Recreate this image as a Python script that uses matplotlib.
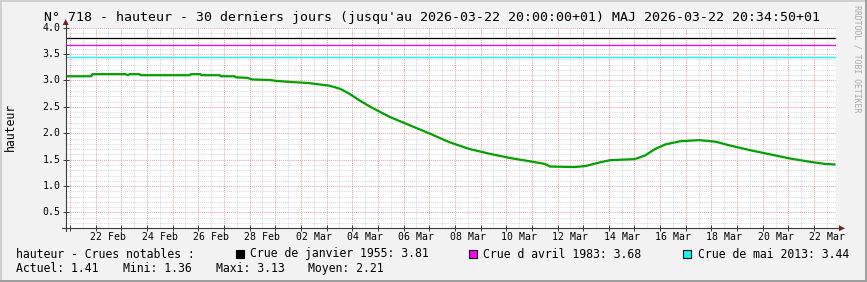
import matplotlib
matplotlib.use("Agg")
import matplotlib.pyplot as plt
import pandas as pd
from matplotlib.patches import Rectangle, Polygon
from matplotlib.lines import Line2D
from matplotlib.transforms import blended_transform_factory

W, H = 867, 282
MONO = "DejaVu Sans Mono"

# hauteur (lecture approximative)
dates = [
    "2026-02-20 20:00", "2026-02-21 20:00", "2026-02-21 21:00", "2026-02-23 04:00",
    "2026-02-23 06:00", "2026-02-23 08:00", "2026-02-23 17:00", "2026-02-23 18:00",
    "2026-02-25 16:00", "2026-02-25 17:00", "2026-02-26 02:00", "2026-02-26 03:00",
    "2026-02-26 20:00", "2026-02-26 21:00", "2026-02-27 10:00", "2026-02-27 11:00",
    "2026-02-27 22:00", "2026-02-28 02:00", "2026-02-28 18:00", "2026-03-01 02:00",
    "2026-03-01 09:00", "2026-03-02 08:00", "2026-03-03 03:00", "2026-03-03 13:00",
    "2026-03-03 22:00", "2026-03-04 07:00", "2026-03-04 17:00", "2026-03-05 11:00",
    "2026-03-06 06:00", "2026-03-07 01:00", "2026-03-07 19:00", "2026-03-08 14:00",
    "2026-03-09 09:00", "2026-03-10 04:00", "2026-03-10 22:00", "2026-03-11 12:00",
    "2026-03-11 17:00", "2026-03-12 16:00", "2026-03-13 02:00", "2026-03-13 16:00",
    "2026-03-14 01:00", "2026-03-15 00:00", "2026-03-15 10:00", "2026-03-15 19:00",
    "2026-03-16 05:00", "2026-03-16 19:00", "2026-03-17 13:00", "2026-03-18 04:00",
    "2026-03-18 17:00", "2026-03-19 12:00", "2026-03-20 07:00", "2026-03-21 02:00",
    "2026-03-21 20:00", "2026-03-22 10:00", "2026-03-22 19:00",
]
hauteur = [
    3.08, 3.08, 3.12, 3.12,
    3.10, 3.12, 3.12, 3.10,
    3.10, 3.12, 3.12, 3.10,
    3.10, 3.08, 3.08, 3.06,
    3.05, 3.02, 3.01, 2.99,
    2.98, 2.95, 2.90, 2.84,
    2.74, 2.62, 2.50, 2.31,
    2.15, 1.99, 1.83, 1.70,
    1.61, 1.53, 1.47, 1.42,
    1.37, 1.36, 1.38, 1.45,
    1.49, 1.51, 1.58, 1.70,
    1.79, 1.85, 1.87, 1.84,
    1.77, 1.68, 1.60, 1.52,
    1.46, 1.42, 1.41,
]

crues_noms = ["Crue de janvier 1955", "Crue d avril 1983", "Crue de mai 2013"]
crues_valeurs = [3.81, 3.68, 3.44]
crues_couleurs = ["#000000", "#FF00FF", "#00FFFF"]

stats_noms = ["Actuel", "Mini", "Maxi", "Moyen"]
stats_valeurs = [1.41, 1.36, 3.13, 2.21]

debut = pd.Timestamp("2026-02-20 20:00")
fin = pd.Timestamp("2026-03-22 20:00")
ymin, ymax = 0.2, 4.0


def fx(x):
    return x / W


def fy(y):
    return 1 - y / H


# couleurs façon rrdtool
BACK = "#F2F2F2"
SHADEA = "#CFCFCF"
SHADEB = "#9E9E9E"
AXE = "#3A3A3A"
FLECHE = "#7F1F1F"

fig = plt.figure(figsize=(W / 100, H / 100), dpi=100, facecolor=BACK)

# cadre
fig.add_artist(Rectangle((0, fy(2)), 1, 2 / H, transform=fig.transFigure, color=SHADEA, lw=0))
fig.add_artist(Rectangle((0, 0), fx(2), 1, transform=fig.transFigure, color=SHADEA, lw=0))
fig.add_artist(Rectangle((0, 0), 1, 2 / H, transform=fig.transFigure, color=SHADEB, lw=0))
fig.add_artist(Rectangle((fx(W - 2), 0), 2 / W, 1, transform=fig.transFigure, color=SHADEB, lw=0))

x0, x1, y0, y1 = 65.7, 835.5, 27.7, 228.3
ax = fig.add_axes([fx(x0), fy(y1), (x1 - x0) / W, (y1 - y0) / H])
ax.set_facecolor("white")
ax.set_xlim(debut, fin)
ax.set_ylim(ymin, ymax)
for s in ax.spines.values():
    s.set_visible(False)

# grille
pointille = (0, (1, 1))
for t in pd.date_range("2026-02-21 00:00", fin, freq="12h"):
    if t.hour == 0:
        ax.axvline(t, color="#DE5151", alpha=0.5, lw=0.75, ls=pointille, zorder=1)
    else:
        ax.axvline(t, color="#8F8F8F", alpha=0.32, lw=0.75, ls=pointille, zorder=1)
for k in range(3, 41):
    v = k / 10
    if k % 5 == 0:
        ax.axhline(v, color="#DE5151", alpha=0.5, lw=0.75, ls=pointille, zorder=1)
    else:
        ax.axhline(v, color="#8F8F8F", alpha=0.32, lw=0.75, ls=pointille, zorder=1)

# crues notables
for v, c in zip(crues_valeurs, crues_couleurs):
    ax.axhline(v, color=c, lw=0.9, zorder=2)

# hauteur
ax.plot(pd.to_datetime(dates), hauteur, color="#00A000", lw=1.6, zorder=3)

# graduations
jours = pd.date_range("2026-02-21", "2026-03-22", freq="D")
ax.set_xticks(jours)
ax.set_xticklabels([])
ax.set_yticks([k / 2 for k in range(1, 9)])
ax.set_yticklabels([])
ax.tick_params(which="both", direction="inout", length=4, width=0.7, color=AXE)

axw = x1 - x0
axh = y1 - y0
trx = blended_transform_factory(ax.transData, ax.transAxes)
for d in pd.date_range("2026-02-22 12:00", "2026-03-22 12:00", freq="2D"):
    ax.text(d, -(237.3 - y1) / axh, d.strftime("%d %b"), transform=trx,
            ha="center", va="center", fontsize=7.1, family=MONO)
try_ = blended_transform_factory(ax.transAxes, ax.transData)
for k in range(1, 9):
    v = k / 2
    ax.text(-(x0 - 60.5) / axw, v, f"{v:.1f}", transform=try_,
            ha="right", va="center", fontsize=7.1, family=MONO)

# axes et flèches
fig.add_artist(Line2D([fx(62), fx(840)], [fy(y1), fy(y1)], color=AXE, lw=0.8))
fig.add_artist(Line2D([fx(x0), fx(x0)], [fy(231), fy(24)], color=AXE, lw=0.8))
fig.add_artist(Polygon([(fx(839), fy(y1 - 3)), (fx(839), fy(y1 + 3)), (fx(845), fy(y1))],
                       closed=True, color=FLECHE, lw=0))
fig.add_artist(Polygon([(fx(x0 - 3), fy(25)), (fx(x0 + 3), fy(25)), (fx(x0), fy(19))],
                       closed=True, color=FLECHE, lw=0))

# textes
titre = ("N° 718 - hauteur - 30 derniers jours (jusqu'au 2026-03-22 20:00:00+01) "
         "MAJ 2026-03-22 20:34:50+01")
fig.text(fx(432), fy(17.5), titre, ha="center", va="center", fontsize=9.55, family=MONO)
fig.text(fx(10), fy(127), "hauteur", rotation=90, ha="center", va="center",
         fontsize=8.3, family=MONO)
fig.text(fx(856.5), fy(59), "RRDTOOL / TOBI OETIKER", rotation=270, ha="center",
         va="center", fontsize=5.9, family=MONO, color="#A8A8A8")

# légende
ly1, ly2 = 254, 268.3
fig.text(fx(16), fy(ly1), "hauteur - Crues notables :", ha="left", va="center",
         fontsize=8.3, family=MONO)
carres_x = [236, 469, 683]
for cx, nom, v, c in zip(carres_x, crues_noms, crues_valeurs, crues_couleurs):
    fig.add_artist(Rectangle((fx(cx), fy(ly1 + 4)), 8 / W, 8 / H, transform=fig.transFigure,
                             facecolor=c, edgecolor="black", lw=0.8))
    fig.text(fx(cx + 14.5), fy(ly1), f"{nom}: {v:.2f}", ha="left", va="center",
             fontsize=8.3, family=MONO)

stats_x = [16, 123, 216, 308]
for sx, nom, v in zip(stats_x, stats_noms, stats_valeurs):
    fig.text(fx(sx), fy(ly2), f"{nom}: {v:.2f}", ha="left", va="center",
             fontsize=8.3, family=MONO)

fig.savefig("out.png", dpi=100, facecolor=BACK)
